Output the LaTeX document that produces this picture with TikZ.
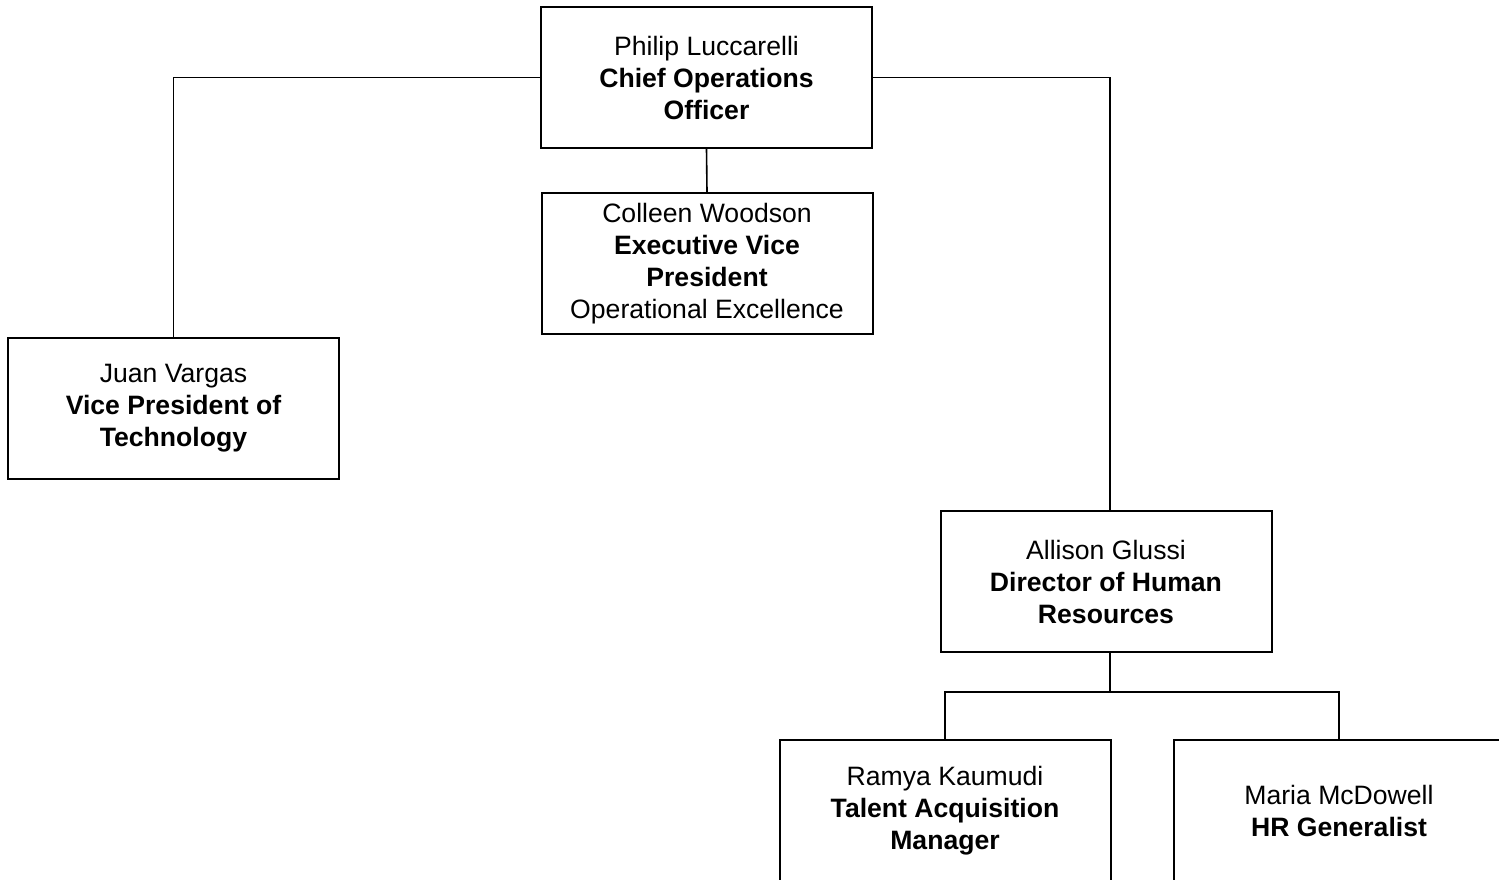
\documentclass[tikz,border=0pt]{standalone}
\usepackage{fontspec}
\setmainfont{Liberation Sans}
\begin{document}
\begin{tikzpicture}[x=0.5pt,y=-0.5pt]
    \tikzset{
        person/.style={draw, line width=1pt, minimum width=165.5pt, minimum height=70.5pt,
            inner sep=0pt, align=center, font=\fontsize{13.3}{16}\selectfont},
        link/.style={line width=0.8pt}
    }
    % Page frame (the bottom and right boxes run off the page)
    \useasboundingbox (0,0) rectangle (1499,879);
    \clip (0,0) rectangle (1499,879);

    % Top of the chart
    \node[person] (coo) at (706.5,77.5) {Philip Luccarelli\\ \textbf{Chief Operations}\\ \textbf{Officer}};
    \node[person] (evp) at (707,263.5) {Colleen Woodson\\ \textbf{Executive Vice}\\ \textbf{President}\\ Operational Excellence};

    % Direct reports
    \node[person] (juan) at (173.5,408.5) {Juan Vargas\\ \textbf{Vice President of}\\ \textbf{Technology}};
    \node[person] (allison) at (1106,581.5) {Allison Glussi\\ \textbf{Director of Human}\\ \textbf{Resources}};

    % HR team
    \node[person] (ramya) at (945,810.5) {Ramya Kaumudi\\ \textbf{Talent Acquisition}\\ \textbf{Manager}};
    \node[person] (maria) at (1339,810.5) {Maria McDowell\\ \textbf{HR Generalist}};

    % Reporting lines
    \draw[link] (coo.west) -| (juan.north);
    \draw[link] (coo.east) -| ([xshift=2pt]allison.north);
    \draw[link] (coo.south) -- (evp.north);
    \draw[link] ([xshift=2pt]allison.south) -- ++(0,39) coordinate (split);
    \draw[link] (ramya.north) |- (split) -| (maria.north);
\end{tikzpicture}
\end{document}
